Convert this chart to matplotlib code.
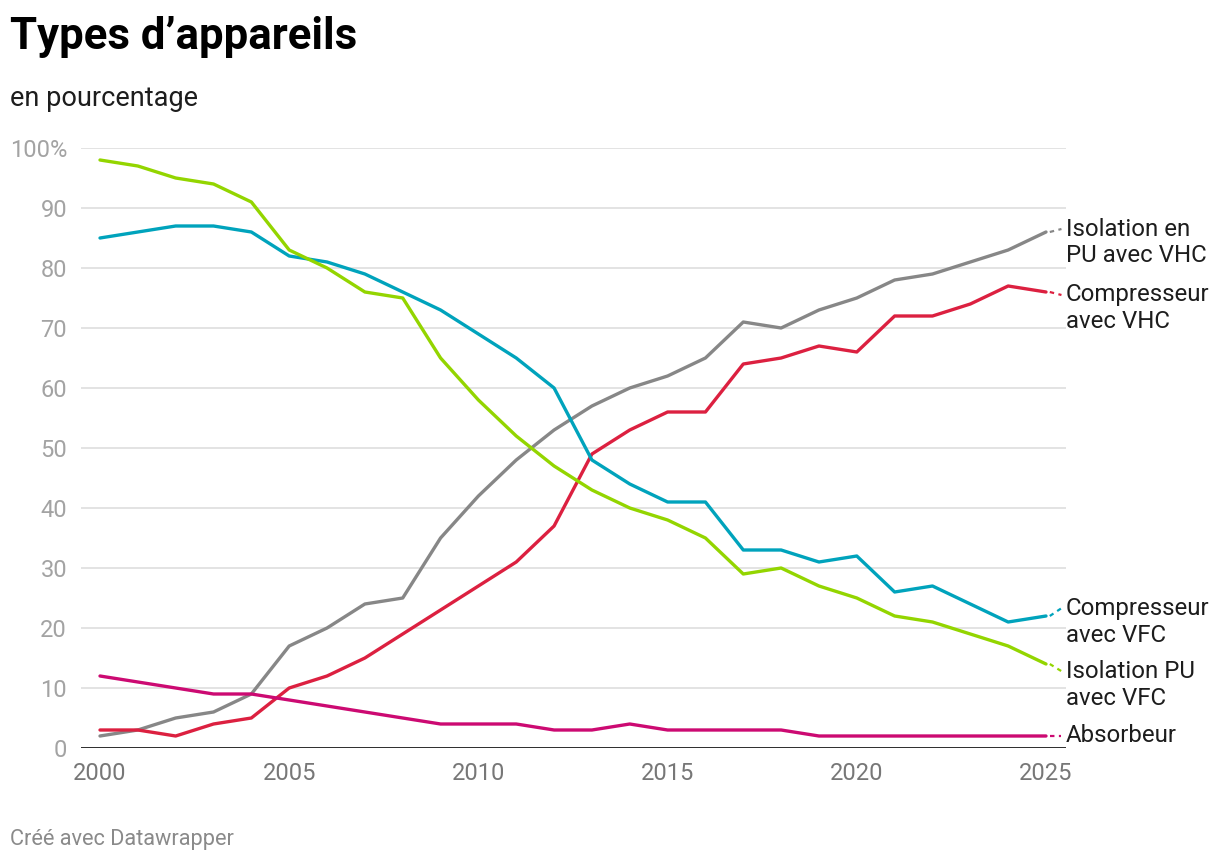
import matplotlib
matplotlib.use("Agg")
import matplotlib.pyplot as plt

plt.rcParams['font.family'] = ['Roboto', 'DejaVu Sans']

years = list(range(2000, 2026))

# values (percent)
iso_vhc = [2, 3, 5, 6, 9, 17, 20, 24, 25, 35, 42, 48, 53, 57, 60, 62, 65, 71, 70, 73, 75, 78, 79, 81, 83, 86]
comp_vhc = [3, 3, 2, 4, 5, 10, 12, 15, 19, 23, 27, 31, 37, 49, 53, 56, 56, 64, 65, 67, 66, 72, 72, 74, 77, 76]
comp_vfc = [85, 86, 87, 87, 86, 82, 81, 79, 76, 73, 69, 65, 60, 48, 44, 41, 41, 33, 33, 31, 32, 26, 27, 24, 21, 22]
iso_vfc = [98, 97, 95, 94, 91, 83, 80, 76, 75, 65, 58, 52, 47, 43, 40, 38, 35, 29, 30, 27, 25, 22, 21, 19, 17, 14]
absorbeur = [12, 11, 10, 9, 9, 8, 7, 6, 5, 4, 4, 4, 3, 3, 4, 3, 3, 3, 3, 2, 2, 2, 2, 2, 2, 2]

series = [iso_vhc, comp_vhc, comp_vfc, iso_vfc, absorbeur]
names = [["Isolation en", "PU avec VHC"], ["Compresseur", "avec VHC"],
         ["Compresseur", "avec VFC"], ["Isolation PU", "avec VFC"], ["Absorbeur"]]
colors = ["#878787", "#dc2040", "#00a3bc", "#93d500", "#cc0a72"]
# vertical nudge of each label's first line, in data units
label_shift = [0.5, -0.5, 1.3, -1.2, 0]

yticks = [0, 10, 20, 30, 40, 50, 60, 70, 80, 90, 100]
ytick_labels = ["0", "10", "20", "30", "40", "50", "60", "70", "80", "90", "100%"]
xticks = [2000, 2005, 2010, 2015, 2020, 2025]

W, H = 1220, 864
fig = plt.figure(figsize=(W / 100, H / 100), dpi=100)
ax = fig.add_axes([81 / W, (H - 748) / H, 985 / W, 600 / H])

x0 = 2000 - 19 / 37.84
x1 = 2025 + 20 / 37.84
ax.set_xlim(x0, x1)
ax.set_ylim(0, 100)

for t in yticks[1:]:
    ax.axhline(t, color="#e3e3e3", lw=1.4, zorder=0)
ax.axhline(0, color="#1a1a1a", lw=2.0, zorder=1)

for vals, col in zip(series, colors):
    ax.plot(years, vals, color=col, lw=2.4, solid_capstyle="round",
            solid_joinstyle="round", zorder=3, clip_on=False)

# labels at the right, with a short dotted connector
lx = 2025 + 20 / 37.84
for vals, col, lines, dy in zip(series, colors, names, label_shift):
    ly = vals[-1] + dy
    ax.plot([years[-1] + 0.1, lx - 0.12], [vals[-1], ly], color=col, lw=1.6,
            ls=(0, (2, 2)), clip_on=False, zorder=3)
    for i, s in enumerate(lines):
        ax.text(lx, ly - i * 4.5, s, fontsize=17.3, color="#1d1d1d",
                va="center", ha="left", clip_on=False)

for sp in ax.spines.values():
    sp.set_visible(False)

ax.set_yticks(yticks)
ax.set_yticklabels(ytick_labels)
ax.set_xticks(xticks)
ax.tick_params(axis="y", length=0, pad=10, labelsize=17, labelcolor="#a3a3a3")
ax.tick_params(axis="x", length=0, pad=10, labelsize=17, labelcolor="#777777")

fig.text(10 / W, 1 - 37 / H, "Types d\u2019appareils", fontsize=31.5, fontweight="bold",
         color="#000000", va="center", ha="left")
fig.text(10 / W, 1 - 98 / H, "en pourcentage", fontsize=19.5, color="#1d1d1d",
         va="center", ha="left")
fig.text(10 / W, 1 - 840 / H, "Créé avec Datawrapper", fontsize=15.7, color="#8a8a8a",
         va="center", ha="left")

fig.savefig("out.png", dpi=100, facecolor="white")
